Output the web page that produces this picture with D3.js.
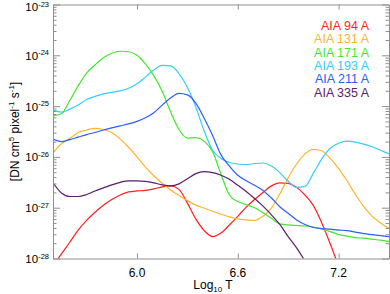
<!DOCTYPE html>
<html>
<head>
<meta charset="utf-8">
<script src="https://cdn.jsdelivr.net/npm/d3@7"></script>
<style>
  body { margin: 0; background: #fff; }
  svg { display: block; font-family: "Liberation Sans", Arial, sans-serif; }
</style>
</head>
<body>
<div id="chart"></div>
<script>
// log10 T grid, 5.5 .. 7.5 in steps of 0.05
var logT = d3.range(41).map(function (i) { return +(5.5 + i * 0.05).toFixed(2); });

// log10 of the response [DN cm^5 pixel^-1 s^-1]
var aia94 = [-28.15, -27.91, -27.68, -27.44, -27.25, -27.09, -26.95, -26.84, -26.75, -26.69,
  -26.67, -26.66, -26.63, -26.59, -26.57, -26.64, -26.91, -27.22, -27.45, -27.57,
  -27.50, -27.34, -27.17, -26.99, -26.84, -26.70, -26.57, -26.51, -26.52, -26.60,
  -26.75, -26.96, -27.30, -27.71, -28.15, null, null, null, null, null, null];
var aia131 = [-25.92, -25.74, -25.64, -25.52, -25.47, -25.44, -25.46, -25.52, -25.65, -25.81,
  -26.00, -26.20, -26.37, -26.52, -26.65, -26.76, -26.86, -26.95, -27.01, -27.07,
  -27.13, -27.18, -27.22, -27.24, -27.25, -27.17, -27.01, -26.73, -26.41, -26.14,
  -25.94, -25.85, -25.88, -26.03, -26.23, -26.47, -26.74, -26.98, -27.17, -27.30, -27.41];
var aia171 = [-25.19, -25.15, -24.89, -24.60, -24.35, -24.19, -24.05, -23.96, -23.92, -23.93,
  -24.00, -24.17, -24.40, -24.71, -25.11, -25.46, -25.63, -25.62, -25.69, -25.90,
  -26.34, -26.75, -26.88, -26.94, -27.00, -27.10, -27.21, -27.32, -27.34, -27.35,
  -27.36, -27.38, -27.42, -27.47, -27.53, -27.56, -27.59, -27.60, -27.62, -27.64, -27.67];
var aia193 = [-25.08, -25.12, -25.06, -24.98, -24.87, -24.81, -24.76, -24.73, -24.70, -24.65,
  -24.56, -24.43, -24.29, -24.20, -24.21, -24.36, -24.63, -25.02, -25.49, -25.87,
  -26.03, -26.11, -26.14, -26.15, -26.13, -26.12, -26.18, -26.31, -26.48, -26.60,
  -26.58, -26.32, -26.04, -25.83, -25.73, -25.69, -25.71, -25.75, -25.80, -25.87, -25.94];
var aia211 = [-25.65, -25.70, -25.66, -25.61, -25.56, -25.52, -25.47, -25.43, -25.39, -25.35,
  -25.30, -25.23, -25.13, -24.98, -24.84, -24.75, -24.78, -24.94, -25.24, -25.58,
  -25.96, -26.18, -26.36, -26.47, -26.56, -26.66, -26.81, -26.98, -27.11, -27.24,
  -27.33, -27.39, -27.41, -27.42, -27.44, -27.45, -27.48, -27.51, -27.53, -27.55, -27.57];
var aia335 = [-26.51, -26.71, -26.78, -26.78, -26.74, -26.67, -26.61, -26.55, -26.50, -26.47,
  -26.47, -26.48, -26.51, -26.55, -26.57, -26.53, -26.43, -26.33, -26.29, -26.31,
  -26.36, -26.44, -26.56, -26.68, -26.82, -26.97, -27.14, -27.33, -27.57, -27.79,
  -28.05, null, null, null, null, null, null, null, null, null, null];

var channels = ["AIA 94 A", "AIA 131 A", "AIA 171 A", "AIA 193 A", "AIA 211 A", "AIA 335 A"];
var colors = ["#ff1f1f", "#ffb52e", "#3fe82a", "#33ccff", "#2b5dff", "#5b1d6f"];
var xTicks = [6.0, 6.6, 7.2];
var yDecades = [-28, -27, -26, -25, -24, -23];

var series = [aia94, aia131, aia171, aia193, aia211, aia335];

var W = 390, H = 294;
var m = { left: 53, right: 1, top: 4.5, bottom: 35.5 };

var svg = d3.select("#chart").append("svg")
  .attr("width", W)
  .attr("height", H);

var x = d3.scaleLinear().domain([5.5, 7.5]).range([m.left, W - m.right]);
var y = d3.scaleLog().domain([1e-28, 1e-23]).range([H - m.bottom, m.top]);

svg.append("clipPath").attr("id", "clip")
  .append("rect")
  .attr("x", m.left).attr("y", m.top)
  .attr("width", W - m.right - m.left)
  .attr("height", H - m.bottom - m.top);

var axisColor = "#8f8f8f";

// curves
var line = d3.line()
  .defined(function (d) { return d[1] !== null; })
  .x(function (d) { return x(d[0]); })
  .y(function (d) { return y(Math.pow(10, d[1])); })
  .curve(d3.curveMonotoneX);

svg.append("g")
  .attr("clip-path", "url(#clip)")
  .selectAll("path")
  .data(series)
  .enter().append("path")
  .attr("fill", "none")
  .attr("stroke", function (d, i) { return colors[i]; })
  .attr("stroke-width", 1.2)
  .attr("d", function (d) { return line(d.map(function (v, i) { return [logT[i], v]; })); });

// y ticks, majors + minors, on both sides, pointing inward
var allY = y.ticks(50).filter(function (v) { return v >= 1e-28 && v <= 1e-23; });
var majorY = yDecades.map(function (e) { return Math.pow(10, e); });
var minorY = allY.filter(function (v) {
  return !majorY.some(function (mv) { return Math.abs(v / mv - 1) < 1e-6; });
});

function styleAxis(g) {
  g.selectAll("path").attr("stroke", axisColor);
  g.selectAll("line").attr("stroke", axisColor);
  g.selectAll("text").remove();
}

svg.append("g").attr("transform", "translate(" + m.left + ",0)")
  .call(d3.axisLeft(y).tickValues(minorY).tickSize(-3.5).tickSizeOuter(0)).call(styleAxis);
svg.append("g").attr("transform", "translate(" + m.left + ",0)")
  .call(d3.axisLeft(y).tickValues(majorY).tickSize(-7).tickSizeOuter(0)).call(styleAxis);
svg.append("g").attr("transform", "translate(" + (W - m.right) + ",0)")
  .call(d3.axisRight(y).tickValues(minorY).tickSize(-3.5).tickSizeOuter(0)).call(styleAxis);
svg.append("g").attr("transform", "translate(" + (W - m.right) + ",0)")
  .call(d3.axisRight(y).tickValues(majorY).tickSize(-7).tickSizeOuter(0)).call(styleAxis);

// x axes bottom + top
svg.append("g").attr("transform", "translate(0," + (H - m.bottom) + ")")
  .call(d3.axisBottom(x).tickValues(xTicks).tickSize(-5).tickSizeOuter(0)).call(styleAxis);
svg.append("g").attr("transform", "translate(0," + m.top + ")")
  .call(d3.axisTop(x).tickValues(xTicks).tickSize(-5).tickSizeOuter(0)).call(styleAxis);

// y tick labels 10^n (top one nudged down so it stays inside the frame)
yDecades.forEach(function (e) {
  var t = svg.append("text")
    .attr("x", m.left - 4)
    .attr("y", y(Math.pow(10, e)) + (e === -23 ? 6.5 : 4.5))
    .attr("text-anchor", "end")
    .attr("font-size", 11.5)
    .attr("fill", "#000");
  t.append("tspan").text("10");
  t.append("tspan").attr("dy", -4.5).attr("font-size", 7.5).text(String(e));
});

// x tick labels
svg.selectAll(".xl")
  .data(xTicks)
  .enter().append("text")
  .attr("x", function (d) { return x(d); })
  .attr("y", H - m.bottom + 18)
  .attr("text-anchor", "middle")
  .attr("font-size", 12)
  .text(function (d) { return d.toFixed(1); });

// x title
var xt = svg.append("text")
  .attr("x", 213)
  .attr("y", 289)
  .attr("text-anchor", "middle")
  .attr("font-size", 12);
xt.append("tspan").text("Log");
xt.append("tspan").attr("dy", 2.5).attr("font-size", 8).text("10");
xt.append("tspan").attr("dy", -2.5).text(" T");

// y title
var yt = svg.append("text")
  .attr("transform", "translate(19," + ((m.top + H - m.bottom) / 2) + ") rotate(-90)")
  .attr("text-anchor", "middle")
  .attr("font-size", 12);
yt.append("tspan").text("[DN cm");
yt.append("tspan").attr("dy", -5).attr("font-size", 8).text("5");
yt.append("tspan").attr("dy", 5).text(" pixel");
yt.append("tspan").attr("dy", -5).attr("font-size", 8).text("-1");
yt.append("tspan").attr("dy", 5).text(" s");
yt.append("tspan").attr("dy", -5).attr("font-size", 8).text("-1");
yt.append("tspan").attr("dy", 5).text("]");

// legend
svg.selectAll(".leg")
  .data(channels)
  .enter().append("text")
  .attr("x", 369)
  .attr("y", function (d, i) { return 30 + i * 13.3; })
  .attr("text-anchor", "end")
  .attr("font-size", 12.5)
  .attr("fill", function (d, i) { return colors[i]; })
  .text(function (d) { return d; });
</script>
</body>
</html>
